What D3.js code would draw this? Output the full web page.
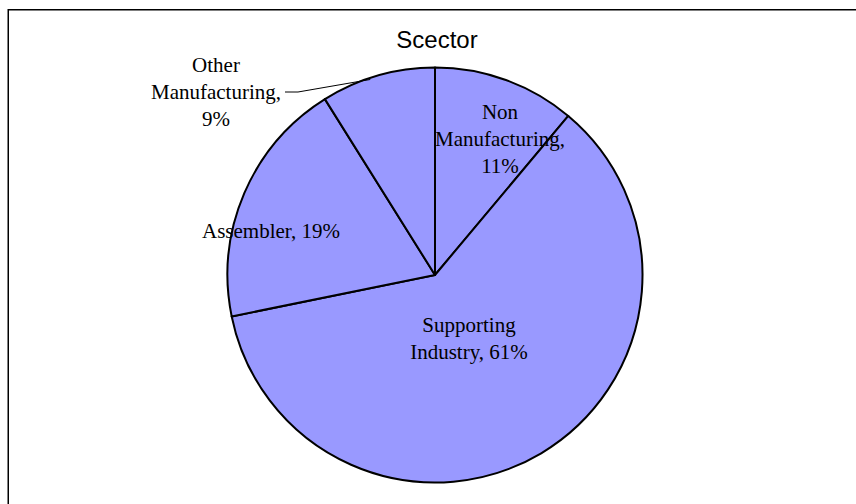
<!DOCTYPE html>
<html>
<head>
<meta charset="utf-8">
<script src="https://cdn.jsdelivr.net/npm/d3@7"></script>
<style>
  body { margin: 0; background: #fff; }
  svg { display: block; }
</style>
</head>
<body>
<div id="chart"></div>
<script>
var w = 856,
    h = 504;

// slice data, clockwise from 12 o'clock
var sectors = ["Non Manufacturing", "Supporting Industry", "Assembler", "Other Manufacturing"];
var shares = [11.1, 60.7, 19.3, 8.9];
var pctLabels = ["11%", "61%", "19%", "9%"];
// how each label wraps into lines
var labelLines = [
  ["Non", "Manufacturing,", "11%"],
  ["Supporting", "Industry, 61%"],
  ["Assembler, 19%"],
  ["Other", "Manufacturing,", "9%"]
];

var cx = 435, cy = 275, r = 207.5;
// label anchor (centre x, first baseline y)
var labelPos = [[500, 119], [469, 332], [271, 238], [216, 72]];

var svg = d3.select("#chart").append("svg")
  .attr("width", w)
  .attr("height", h);

// outer frame (runs off the right/bottom edge)
svg.append("rect")
  .attr("x", 8.25)
  .attr("y", 9.75)
  .attr("width", 1000)
  .attr("height", 1000)
  .attr("fill", "none")
  .attr("stroke", "#000")
  .attr("stroke-width", 1.5);

svg.append("text")
  .attr("x", 437)
  .attr("y", 48)
  .attr("text-anchor", "middle")
  .style("font-family", "Liberation Sans, Arial, sans-serif")
  .style("font-size", "24px")
  .text("Scector");

var pie = d3.pie().sort(null).value(function(d) { return d; });
var arcs = pie(shares);
var arc = d3.arc().innerRadius(0).outerRadius(r);

var g = svg.append("g").attr("transform", "translate(" + cx + "," + cy + ")");

g.selectAll("path.slice")
  .data(arcs)
  .enter().append("path")
  .attr("class", "slice")
  .attr("d", arc)
  .attr("fill", "#9999ff")
  .attr("stroke", "#000")
  .attr("stroke-width", 2)
  .attr("stroke-linejoin", "round");

// leader line for the small "Other" slice
var other = arcs[3];
var mid = (other.startAngle + other.endAngle) / 2;
var ex = cx + Math.sin(mid) * (r - 2),
    ey = cy - Math.cos(mid) * (r - 2);
svg.append("polyline")
  .attr("points", [[285, 92], [298, 92], [ex - 8, ey + 2]].map(function(p) { return p.join(","); }).join(" "))
  .attr("fill", "none")
  .attr("stroke", "#000")
  .attr("stroke-width", 1);

var labels = svg.selectAll("text.lbl")
  .data(labelLines)
  .enter().append("text")
  .attr("class", "lbl")
  .attr("text-anchor", "middle")
  .style("font-family", "Liberation Serif, Times New Roman, serif")
  .style("font-size", "21px")
  .attr("fill", "#000");

labels.each(function(lines, i) {
  var t = d3.select(this);
  lines.forEach(function(s, j) {
    t.append("tspan")
      .attr("x", labelPos[i][0])
      .attr("y", labelPos[i][1] + j * 27)
      .text(s);
  });
});
</script>
</body>
</html>
